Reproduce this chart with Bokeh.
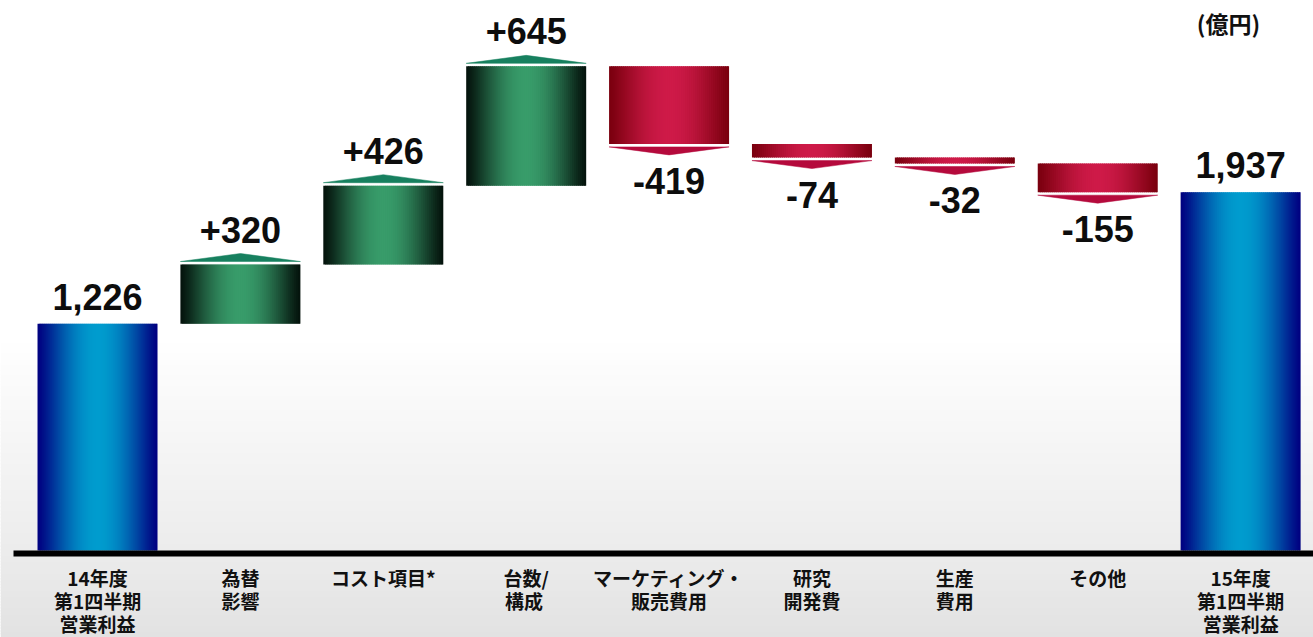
import numpy as np
from bokeh.plotting import figure
from bokeh.models import Range1d, Label
from bokeh.core.properties import value
from bokeh.embed import file_html
from bokeh.resources import INLINE

# ---------------- data ----------------
categories = ["14年度\n第1四半期\n営業利益", "為替\n影響", "コスト項目*", "台数/\n 構成",
              "マーケティング・\n販売費用", "研究\n開発費", "生産\n費用", "その他",
              "15年度\n第1四半期\n営業利益"]
start_value = 1226
changes = [320, 426, 645, -419, -74, -32, -155]
end_value = 1937
value_labels = ["1,226", "+320", "+426", "+645", "-419", "-74", "-32", "-155", "1,937"]
unit_label = "(億円)"

# ---------------- geometry helpers ----------------
W, H = 1313, 637
x0, x1 = -0.679, 8.51
y0, y1 = -470, 2973
px = W / (x1 - x0)          # pixels per x unit
py = H / (y1 - y0)          # pixels per y unit
bar_w = 120 / px

n = len(categories)
xs = np.arange(n)
cum = np.cumsum([start_value] + changes)
bottoms, tops, kinds = [0], [start_value], ["total"]
for i, c in enumerate(changes):
    prev, nxt = cum[i], cum[i + 1]
    bottoms.append(min(prev, nxt)); tops.append(max(prev, nxt))
    kinds.append("up" if c > 0 else "down")
bottoms.append(0); tops.append(end_value); kinds.append("total")


def hx(c):
    return "#%02x%02x%02x" % tuple(int(round(v)) for v in c)


def mix(a, b, f):
    return hx([a[k] + (b[k] - a[k]) * f for k in range(3)])


palettes = {
    "total": ((0, 0, 128), (0, 156, 206)),
    "up": ((4, 18, 12), (56, 156, 106)),
    "down": ((122, 0, 14), (206, 26, 72)),
}

p = figure(width=W, height=H, x_range=Range1d(x0, x1), y_range=Range1d(y0, y1),
           output_backend="svg", toolbar_location=None, min_border=0,
           x_axis_location=None, y_axis_location=None,
           background_fill_color="white", border_fill_color="white", outline_line_color=None)
p.xgrid.visible = False
p.ygrid.visible = False

# ---------------- background gradient ----------------
NB = 60
top_grad = 215 / py
yy = np.linspace(0, top_grad, NB + 1)
ov = 1.5 / py
cols = [mix((236, 236, 236), (255, 255, 255), (k + 0.5) / NB) for k in range(NB)]
p.quad(left=x0, right=x1, bottom=yy[:-1], top=yy[1:] + ov, fill_color=cols, line_color=None)
yy2 = np.linspace(y0, 0, 30 + 1)
cols2 = [mix((226, 226, 226), (236, 236, 236), (k + 0.5) / 30) for k in range(30)]
p.quad(left=x0, right=x1, bottom=yy2[:-1], top=yy2[1:] + ov, fill_color=cols2, line_color=None)

# ---------------- gradient bars ----------------
NS = 60
ovx = 1.2 / px
L, R, B, T, C = [], [], [], [], []
for i in range(n):
    edge, center = palettes[kinds[i]]
    left = xs[i] - bar_w / 2
    for j in range(NS):
        t = (j + 0.5) / NS
        f = np.sin(np.pi * t) ** 1.2
        L.append(left + bar_w * j / NS)
        R.append(min(left + bar_w * (j + 1) / NS + ovx, left + bar_w))
        B.append(bottoms[i]); T.append(tops[i])
        C.append(mix(edge, center, f))
p.quad(left=L, right=R, bottom=B, top=T, fill_color=C, line_color=None)

# ---------------- arrow triangles ----------------
gap = 3 / py
tri_h = 8 / py
txs, tys, tcol = [], [], []
for i in range(n):
    if kinds[i] == "up":
        b = tops[i] + gap
        txs.append([xs[i] - bar_w / 2, xs[i], xs[i] + bar_w / 2])
        tys.append([b, b + tri_h, b])
        tcol.append("#17805f")
    elif kinds[i] == "down":
        b = bottoms[i] - gap
        txs.append([xs[i] - bar_w / 2, xs[i], xs[i] + bar_w / 2])
        tys.append([b, b - tri_h, b])
        tcol.append("#b50a3c")
p.patches(xs=txs, ys=tys, fill_color=tcol, line_color=tcol, line_width=0.5)

# ---------------- baseline ----------------
p.quad(left=[x0 + 13 / px], right=[x1], bottom=[-6 / py], top=[0], fill_color="black", line_color=None)

# ---------------- value labels ----------------
ly = []
for i in range(n):
    if kinds[i] == "total":
        ly.append(tops[i] + 27 / py)
    elif kinds[i] == "up":
        ly.append(tops[i] + gap + tri_h + 24 / py)
    else:
        ly.append(bottoms[i] - gap - tri_h - 26 / py)
p.text(x=list(xs), y=ly, text=value_labels, text_align="center", text_baseline="middle",
       text_font=value("Liberation Sans"), text_font_style="bold", text_font_size="36px",
       text_color="#0d0d0d")

# ---------------- category labels ----------------
for k in range(3):
    cx, cy, ct = [], [], []
    for i, cat in enumerate(categories):
        lines = cat.split("\n")
        if k < len(lines):
            cx.append(xs[i]); cy.append(-(27 + 23 * k) / py); ct.append(lines[k])
    p.text(x=cx, y=cy, text=ct, text_align="center", text_baseline="middle",
           text_font=value("Noto Sans CJK JP"), text_font_style="bold", text_font_size="19px",
           text_color="#111111")

# ---------------- unit label ----------------
p.add_layout(Label(x=1228, y=H - 22, x_units="screen", y_units="screen", text=unit_label,
                   text_align="center", text_baseline="middle", text_font="Noto Sans CJK JP",
                   text_font_style="bold", text_font_size="23px", text_color="#111111"))

open("out.html", "w").write(file_html(p, INLINE))
